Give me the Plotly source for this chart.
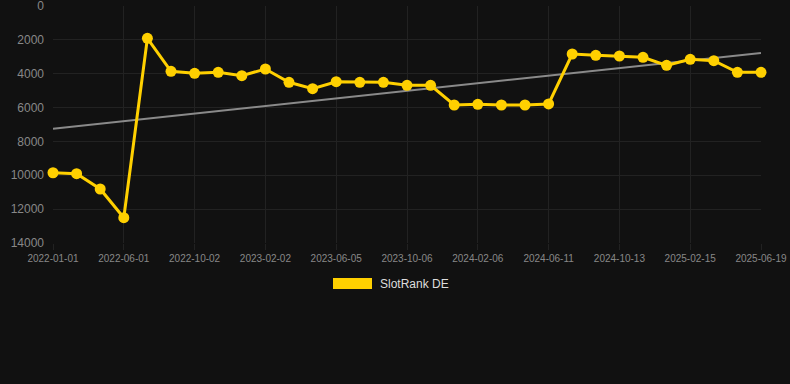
import numpy as np
import plotly.graph_objects as go

dates = [
    "2022-01-01", "2022-02-20", "2022-04-11", "2022-06-01", "2022-07-12", "2022-08-22",
    "2022-10-02", "2022-11-12", "2022-12-23", "2023-02-02", "2023-03-15", "2023-04-25",
    "2023-06-05", "2023-07-16", "2023-08-26", "2023-10-06", "2023-11-16", "2023-12-27",
    "2024-02-06", "2024-03-18", "2024-04-30", "2024-06-11", "2024-07-23", "2024-09-01",
    "2024-10-13", "2024-11-23", "2025-01-04", "2025-02-15", "2025-03-28", "2025-05-09",
    "2025-06-19",
]
rank_de = [
    9850, 9905, 10810, 12505, 1908, 3858, 3976, 3917, 4115, 3721,
    4507, 4884, 4471, 4507, 4507, 4684, 4684, 5848, 5808, 5848,
    5848, 5788, 2835, 2914, 2953, 3032, 3505, 3150, 3229, 3918,
    3918,
]
tick_labels = dates[::3]
y_ticks = [0, 2000, 4000, 6000, 8000, 10000, 12000, 14000]

idx = np.arange(len(rank_de))
slope, intercept = np.polyfit(idx, rank_de, 1)
trend = intercept + slope * idx

YELLOW = "#FFD000"
fig = go.Figure()
fig.add_trace(go.Scatter(
    x=dates, y=trend, mode="lines",
    line=dict(color="#8a8a8a", width=2),
    hoverinfo="skip", showlegend=False,
))
fig.add_trace(go.Scatter(
    x=dates, y=rank_de, mode="lines+markers", name="SlotRank DE",
    line=dict(color=YELLOW, width=3),
    marker=dict(color=YELLOW, size=11),
    cliponaxis=False, showlegend=False,
))

fig.update_layout(
    width=790, height=384,
    margin=dict(l=53, r=29, t=6, b=141, autoexpand=False),
    paper_bgcolor="#111111", plot_bgcolor="#111111",
    font=dict(family="Liberation Sans, Arial, sans-serif", color="#888888"),
    showlegend=False,
)
fig.update_xaxes(
    type="category", range=[0, len(dates) - 1],
    tickmode="array", tickvals=tick_labels, ticktext=tick_labels,
    showgrid=True, gridcolor="#222222", gridwidth=1,
    ticks="outside", ticklen=6, tickcolor="#222222",
    tickfont=dict(size=10, color="#888888"),
    ticklabeloverflow="allow", automargin=False,
    showline=False, zeroline=False,
)
fig.update_yaxes(
    range=[14000, 0], tickmode="array", tickvals=y_ticks,
    ticktext=[str(v) for v in y_ticks],
    showgrid=True, gridcolor="#222222", gridwidth=1,
    tickfont=dict(size=12, color="#888888"),
    ticks="", ticklabelstandoff=8,
    ticklabeloverflow="allow", automargin=False,
    showline=False, zeroline=False,
)

# Chart.js-style legend box
fig.add_shape(type="rect", xref="paper", yref="paper",
              x0=(333 - 53) / 708, x1=(372 - 53) / 708,
              y0=(243 - 289) / 237, y1=(243 - 278) / 237,
              fillcolor=YELLOW, line=dict(width=0))
fig.add_annotation(text="SlotRank DE", xref="paper", yref="paper",
                   x=(378 - 53) / 708, y=(243 - 283.5) / 237,
                   xanchor="left", yanchor="middle", showarrow=False,
                   font=dict(size=12, color="#dddddd"))

fig.write_html(
    "out.html",
    config={"displayModeBar": False},
    post_script="document.body.style.margin='0';document.body.style.background='#111111';",
)
